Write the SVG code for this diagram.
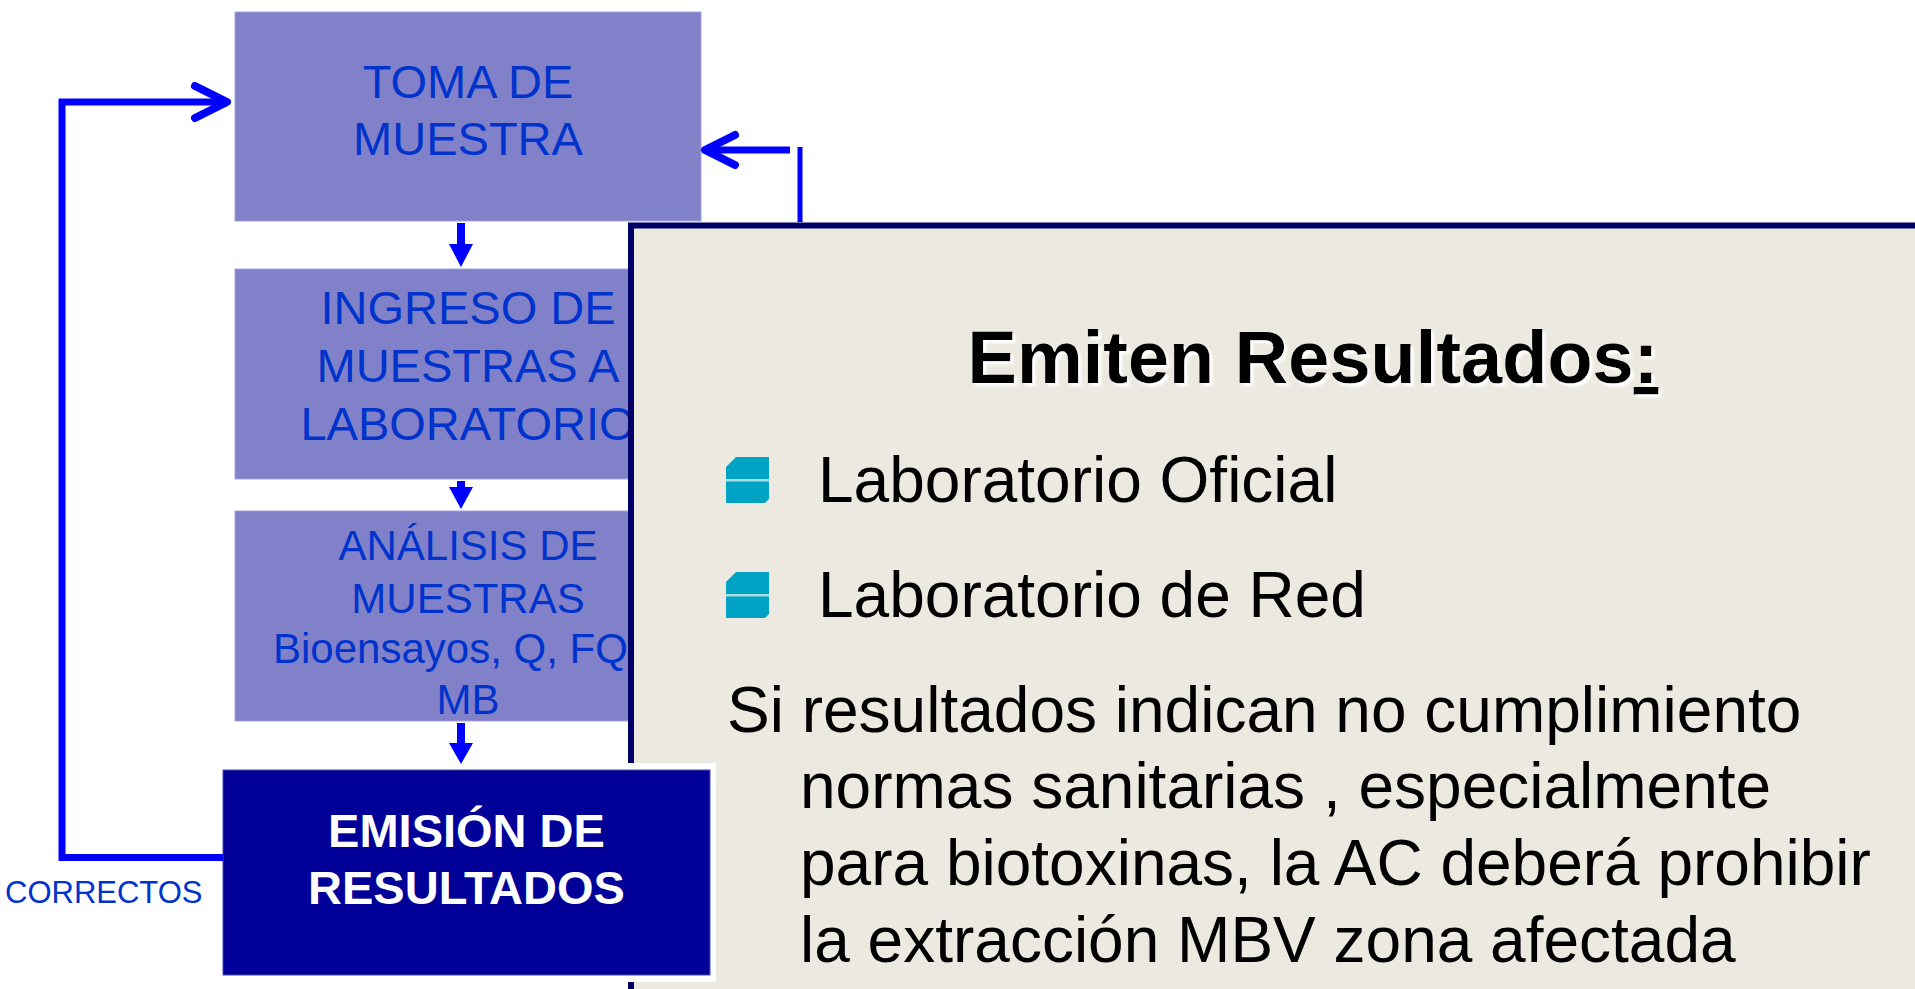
<svg xmlns="http://www.w3.org/2000/svg" width="1915" height="989" viewBox="0 0 1915 989">
  <defs>
    <filter id="shadow" x="-5%" y="-20%" width="110%" height="140%">
      <feDropShadow dx="3" dy="3" stdDeviation="1.2" flood-color="#ffffff" flood-opacity="1"/>
    </filter>
    <style>
      .box { fill: #8181C9; stroke: #A3A3DC; stroke-width: 1; }
      .ntext { font-family: "Liberation Sans", Arial, sans-serif; fill: #0033CC; text-anchor: middle; }
      .conn { stroke: #0000FF; fill: none; }
      .chev { stroke: #0000FF; fill: none; stroke-width: 8; stroke-linecap: round; stroke-linejoin: round; }
      .darrow { fill: #0000FF; }
      .body { font-family: "Liberation Sans", Arial, sans-serif; fill: #000000; font-size: 64px; }
      .bullet { fill: #00A3C4; }
      .bline { fill: #A9DCE4; }
    </style>
  </defs>
  <rect x="0" y="0" width="1915" height="989" fill="#FFFFFF"/>

  <g id="node-toma">
    <rect class="box" x="235" y="12" width="466" height="209"/>
    <text class="ntext" font-size="47" x="468" y="98">TOMA DE</text>
    <text class="ntext" font-size="47" x="468" y="155">MUESTRA</text>
  </g>

  <g id="node-ingreso">
    <rect class="box" x="235" y="269" width="466" height="210"/>
    <text class="ntext" font-size="47" x="468" y="324">INGRESO DE</text>
    <text class="ntext" font-size="47" x="468" y="382">MUESTRAS A</text>
    <text class="ntext" font-size="47" x="468" y="440">LABORATORIO</text>
  </g>

  <g id="node-analisis">
    <rect class="box" x="235" y="511" width="466" height="210"/>
    <text class="ntext" font-size="42" x="468" y="560">ANÁLISIS DE</text>
    <text class="ntext" font-size="42" x="468" y="613">MUESTRAS</text>
    <text class="ntext" font-size="42" x="273" y="663" style="text-anchor:start">Bioensayos, Q, FQ</text>
    <text class="ntext" font-size="42" x="468" y="714">MB</text>
  </g>

  <g id="panel">
    <rect x="631" y="225.5" width="1300" height="780" fill="#ECEAE0" stroke="#000066" stroke-width="6"/>
    <text x="1313" y="383" font-family="'Liberation Sans', Arial, sans-serif" font-weight="bold" font-size="74" fill="#000000" text-anchor="middle" filter="url(#shadow)">Emiten Resultados<tspan text-decoration="underline">:</tspan></text>
    <polygon class="bullet" points="736,457 769,457 769,499 765,503 726,503 726,467"/>
    <rect class="bline" x="726" y="479" width="43" height="2.5"/>
    <polygon class="bullet" points="736,572 769,572 769,614 765,618 726,618 726,582"/>
    <rect class="bline" x="726" y="594" width="43" height="2.5"/>
    <text class="body" x="818" y="502">Laboratorio Oficial</text>
    <text class="body" x="818" y="617">Laboratorio de Red</text>
    <text class="body" x="727" y="732">Si resultados indican no cumplimiento</text>
    <text class="body" x="800" y="808">normas sanitarias , especialmente</text>
    <text class="body" x="800" y="885">para biotoxinas, la AC deberá prohibir</text>
    <text class="body" x="800" y="962">la extracción MBV zona afectada</text>
  </g>

  <g id="node-emision">
    <rect x="217" y="763" width="499" height="219" fill="#FFFFFF"/>
    <rect x="223" y="770" width="487" height="205" fill="#000099" stroke="#4A4AB5" stroke-width="1"/>
    <text x="466.5" y="847" font-family="'Liberation Sans', Arial, sans-serif" font-weight="bold" font-size="47" fill="#FFFFFF" text-anchor="middle">EMISIÓN DE</text>
    <text x="466.5" y="904" font-family="'Liberation Sans', Arial, sans-serif" font-weight="bold" font-size="47" fill="#FFFFFF" text-anchor="middle">RESULTADOS</text>
  </g>

  <g id="label-correctos">
    <text x="5" y="903" font-family="'Liberation Sans', Arial, sans-serif" font-size="31" fill="#0033CC">CORRECTOS</text>
  </g>

  <g id="connectors">
    <path class="conn" stroke-width="7" d="M223,857.5 H62 V102 H224"/>
    <polyline class="chev" points="195,86 227,102 195,118"/>
    <path class="conn" stroke-width="7" d="M790,150 H708"/>
    <polyline class="chev" points="735,135 705,150 735,165"/>
    <path class="conn" stroke-width="5" d="M800,147 V222"/>
    <polygon class="darrow" points="457,223 465,223 465,244 473,244 461,267 449,244 457,244"/>
    <polygon class="darrow" points="457,481 465,481 465,487 473,487 461,509 449,487 457,487"/>
    <polygon class="darrow" points="457,723 465,723 465,743 473,743 461,764 449,743 457,743"/>
  </g>
</svg>
